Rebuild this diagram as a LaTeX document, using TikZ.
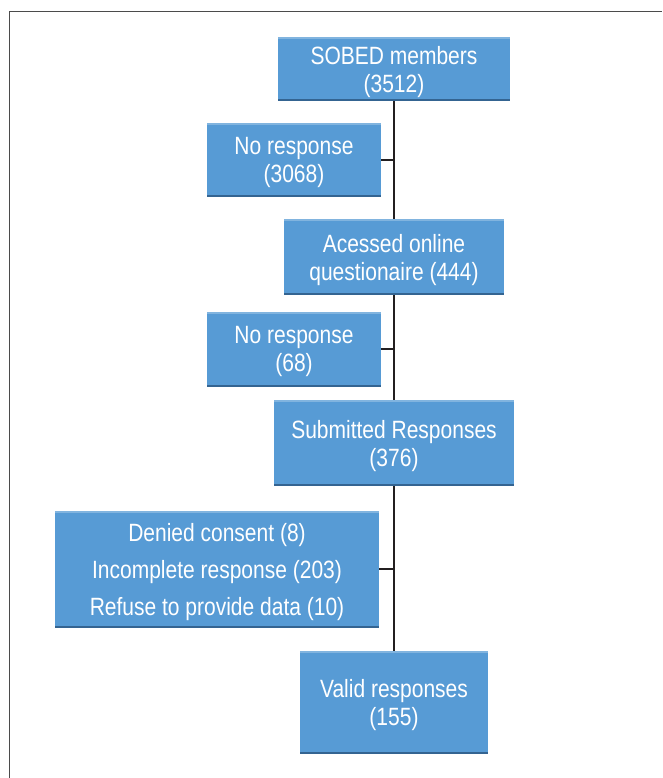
\documentclass[tikz,border=0pt]{standalone}
\usepackage{fontspec}
\setmainfont{Liberation Sans}[FakeStretch=0.84]
\usetikzlibrary{positioning}
\definecolor{boxblue}{RGB}{87,155,213}
\definecolor{boxedge}{RGB}{52,100,145}
\definecolor{linegray}{RGB}{35,31,32}
\definecolor{framegray}{RGB}{75,75,75}

\begin{document}
\begin{tikzpicture}[x=1pt ,y=1pt ,node distance =90pt and 100pt ,on grid ,
stage/.style ={rectangle ,fill=boxblue ,text=white ,inner sep=0pt ,
align=center ,text depth=0pt ,font=\fontsize{25}{28}\selectfont ,
path picture={
\fill[boxedge] (path picture bounding box.south west) rectangle ([yshift=2pt]path picture bounding box.south east);
\fill[white,opacity=.25] (path picture bounding box.north west) rectangle ([yshift=-2pt]path picture bounding box.north east);}},
link/.style={draw=linegray ,line width=1.6pt}
]
\useasboundingbox (0,0) rectangle (662,-778);
\draw[framegray ,line width=1.8pt] (9.5,-778) -- (9.5,-11.5) -- (662,-11.5);
\node[stage ,minimum width=232pt ,minimum height=64pt] (sobed) at (394,-69) {SOBED members\\(3512)};
\node[stage ,minimum width=174pt ,minimum height=74pt] (nores1) [below left = 91pt and 100pt of sobed] {No response\\(3068)};
\node[stage ,minimum width=220pt ,minimum height=76pt] (acc) [below = 188pt of sobed] {Acessed online\\questionaire (444)};
\node[stage ,minimum width=174pt ,minimum height=75pt] (nores2) [below left = 92pt and 100pt of acc] {No response\\(68)};
\node[stage ,minimum width=240pt ,minimum height=86pt] (sub) [below = 186pt of acc] {Submitted Responses\\(376)};
\node[stage ,minimum width=324pt ,minimum height=117pt ,font=\fontsize{25}{37}\selectfont] (excl) [below left = 126pt and 177pt of sub] {Denied consent (8)\\Incomplete response (203)\\Refuse to provide data (10)};
\node[stage ,minimum width=188pt ,minimum height=103pt] (valid) [below = 259.5pt of sub] {Valid responses\\(155)};
\draw[link] (sobed) -- (acc);
\draw[link] (acc) -- (sub);
\draw[link] (sub) -- (valid);
\draw[link] (nores1.east) -- (nores1.east -| sobed.south);
\draw[link] (nores2.east) -- (nores2.east -| acc.south);
\draw[link] (excl.east) -- (excl.east -| sub.south);
\end{tikzpicture}
\end{document}
